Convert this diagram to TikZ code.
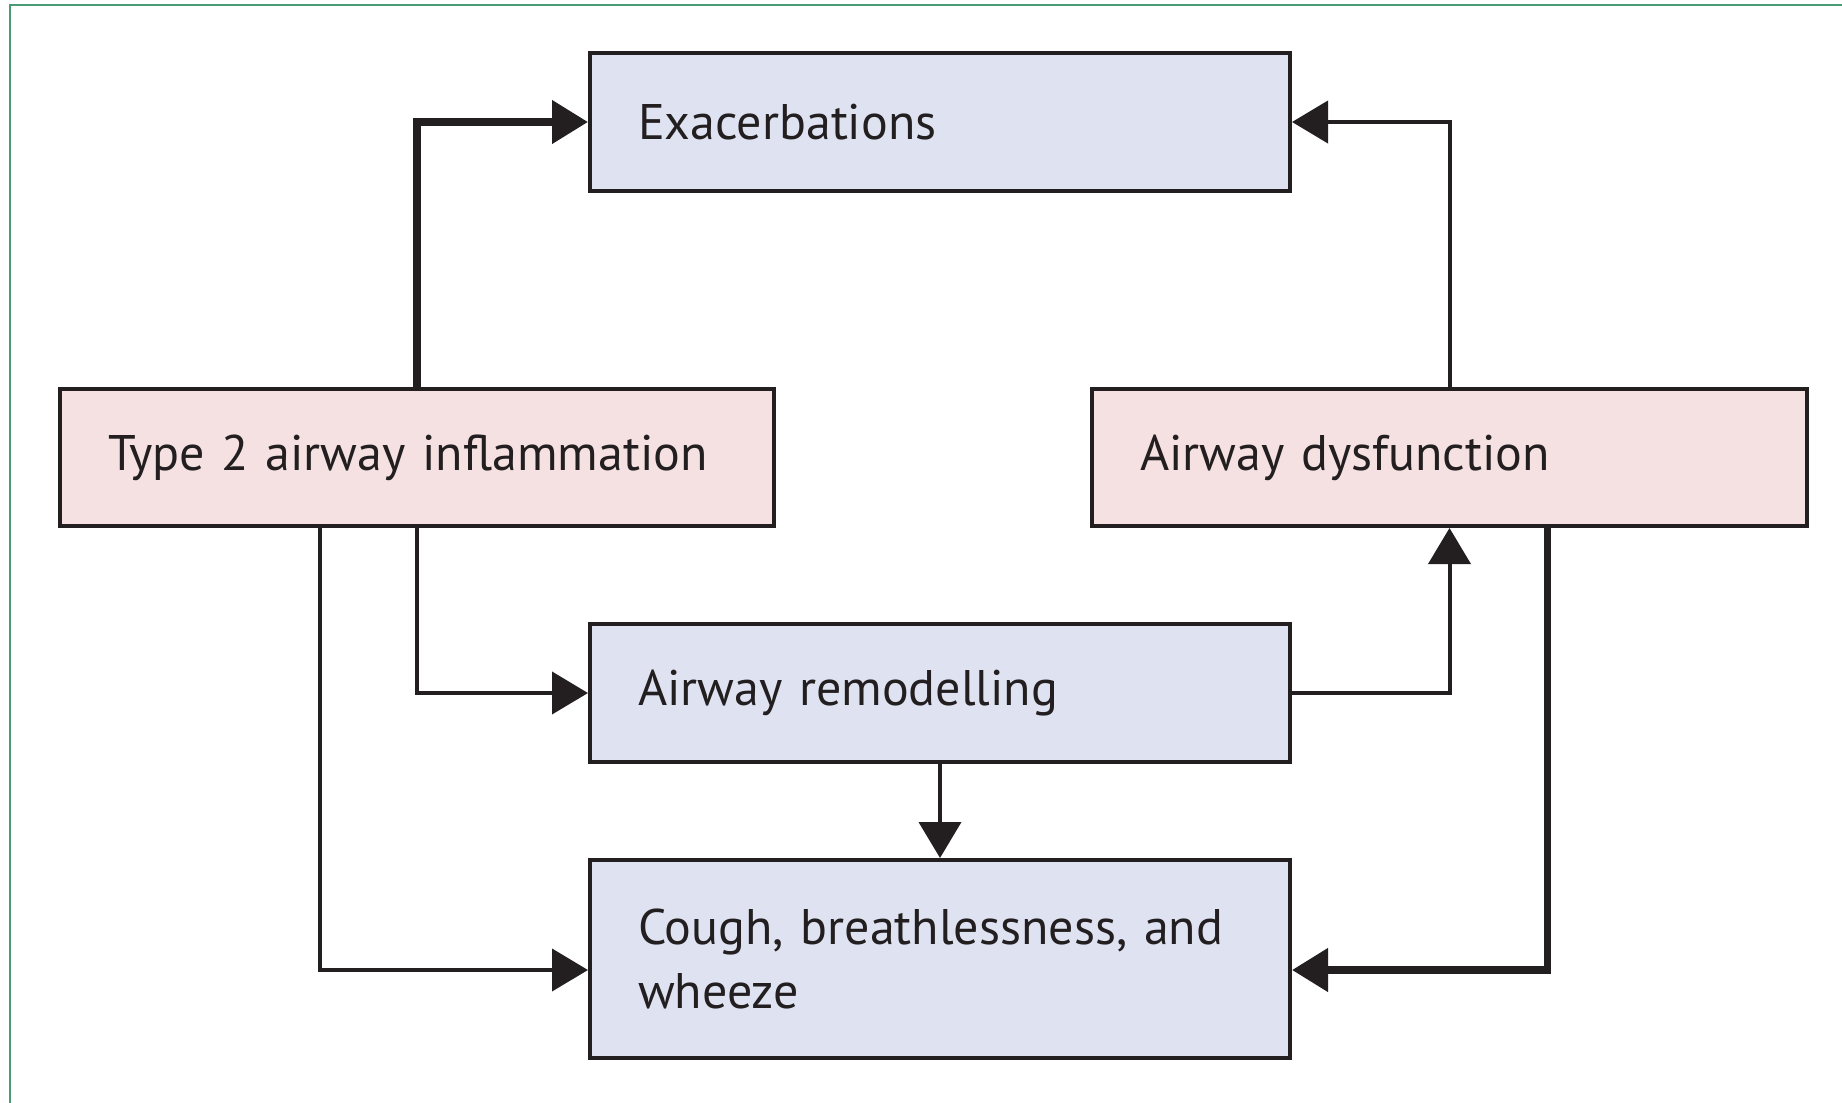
\documentclass[tikz,border=0pt]{standalone}
\usepackage{fontspec}
\setmainfont{PT Sans}[WordSpace=0.85]
\usetikzlibrary{arrows.meta,calc}
\definecolor{ink}{RGB}{35,31,32}
\definecolor{bluebox}{RGB}{222,226,241}
\definecolor{pinkbox}{RGB}{245,225,225}
\definecolor{framegreen}{RGB}{74,155,115}
\begin{document}
\begin{tikzpicture}[x=0.5pt,y=-0.5pt,
  box/.style={draw=ink, line width=2pt, align=left, inner xsep=24pt, inner ysep=0pt,
    font=\fontsize{25}{32}\selectfont, text=ink},
  bluebox/.style={box, fill=bluebox},
  pinkbox/.style={box, fill=pinkbox},
  link/.style={draw=ink, line width=2pt, -{Triangle[length=18pt,width=21pt]}},
  thicklink/.style={link, line width=3.8pt}]
\useasboundingbox (0,0) rectangle (1842,1103);
% outer frame (top and left rules)
\draw[framegreen, line width=1.4pt] (1842,5) -- (10,5) -- (10,1103);

\node[bluebox, minimum width=350pt, minimum height=69pt, text width=302pt] (ex) at (940,122) {Exacerbations};
\node[pinkbox, minimum width=357pt, minimum height=68.5pt, text width=309pt] (t2) at (417,457.5) {Type 2 airway inflammation};
\node[pinkbox, minimum width=357.5pt, minimum height=68.5pt, text width=309.5pt] (dy) at (1449.5,457.5) {Airway dysfunction};
\node[bluebox, minimum width=350pt, minimum height=69pt, text width=302pt] (rm) at (940,693) {Airway remodelling};
\node[bluebox, minimum width=350pt, minimum height=99pt, text width=302pt] (cg) at (940,959) {Cough, breathlessness, and\\wheeze};

\coordinate (t2b) at ($(t2.south)+(-97,0)$);
\coordinate (dyb) at ($(dy.south)+(98,0)$);
\coordinate (cgw) at ($(cg.west)+(0,11)$);
\coordinate (cge) at ($(cg.east)+(0,11)$);

\draw[thicklink] (t2.north) |- (ex.west);
\draw[link] (dy.north) |- (ex.east);
\draw[link] (t2.south) |- (rm.west);
\draw[link] (t2b) |- (cgw);
\draw[link] (rm.east) -| (dy.south);
\draw[link] (rm.south) -- (cg.north);
\draw[thicklink] (dyb) |- (cge);
\end{tikzpicture}
\end{document}
